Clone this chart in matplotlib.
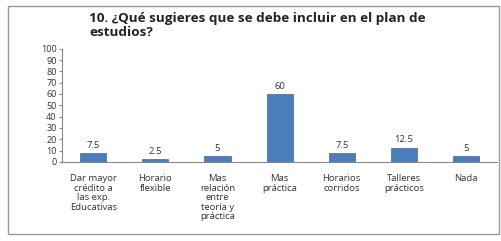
import matplotlib.pyplot as plt
from matplotlib.patches import Rectangle

categories = ["Dar mayor\ncrédito a\nlas exp.\nEducativas", "Horario\nflexible",
              "Mas\nrelación\nentre\nteoría y\npráctica", "Mas\npráctica",
              "Horarios\ncorridos", "Talleres\nprácticos", "Nada"]
values = [7.5, 2.5, 5, 60, 7.5, 12.5, 5]
value_labels = ["7.5", "2.5", "5", "60", "7.5", "12.5", "5"]
yticks = [0, 10, 20, 30, 40, 50, 60, 70, 80, 90, 100]

plt.rcParams['font.family'] = ['Open Sans', 'DejaVu Sans']

fig = plt.figure(figsize=(5.02, 2.41), dpi=100)
fig.patches.append(Rectangle((0.016, 0.03), 0.978, 0.945, transform=fig.transFigure,
                             fill=False, edgecolor='#9a9a9a', linewidth=1.0))

ax = fig.add_axes([0.124, 0.328, 0.866, 0.47])
x = range(len(values))
ax.bar(x, values, width=0.42, color='#4a7ebb', edgecolor='#3a6aa6', linewidth=0.5)
for i, v in enumerate(values):
    ax.text(i, v + 3, value_labels[i], ha='center', va='bottom', fontsize=6.8, color='#333333')

ax.set_xlim(-0.5, len(values) - 0.5)
ax.set_ylim(0, 100)
ax.set_yticks(yticks)
ax.set_yticklabels([str(t) for t in yticks], fontsize=6.5, color='#333333')
ax.set_xticks(list(x))
ax.set_xticklabels(categories, fontsize=6.8, color='#333333', linespacing=1.05)
ax.tick_params(axis='x', length=0, pad=9)
ax.tick_params(axis='y', length=2, color='#888888', pad=2)
for s in ['top', 'right']:
    ax.spines[s].set_visible(False)
ax.spines['left'].set_color('#888888')
ax.spines['bottom'].set_color('#888888')
ax.spines['left'].set_linewidth(0.8)
ax.spines['bottom'].set_linewidth(0.8)

fig.text(0.178, 0.95, "10. ¿Qué sugieres que se debe incluir en el plan de\nestudios?",
         ha='left', va='top', fontsize=9.7, fontweight='bold', color='#222222', linespacing=1.1)

fig.savefig("out.png", dpi=100)
